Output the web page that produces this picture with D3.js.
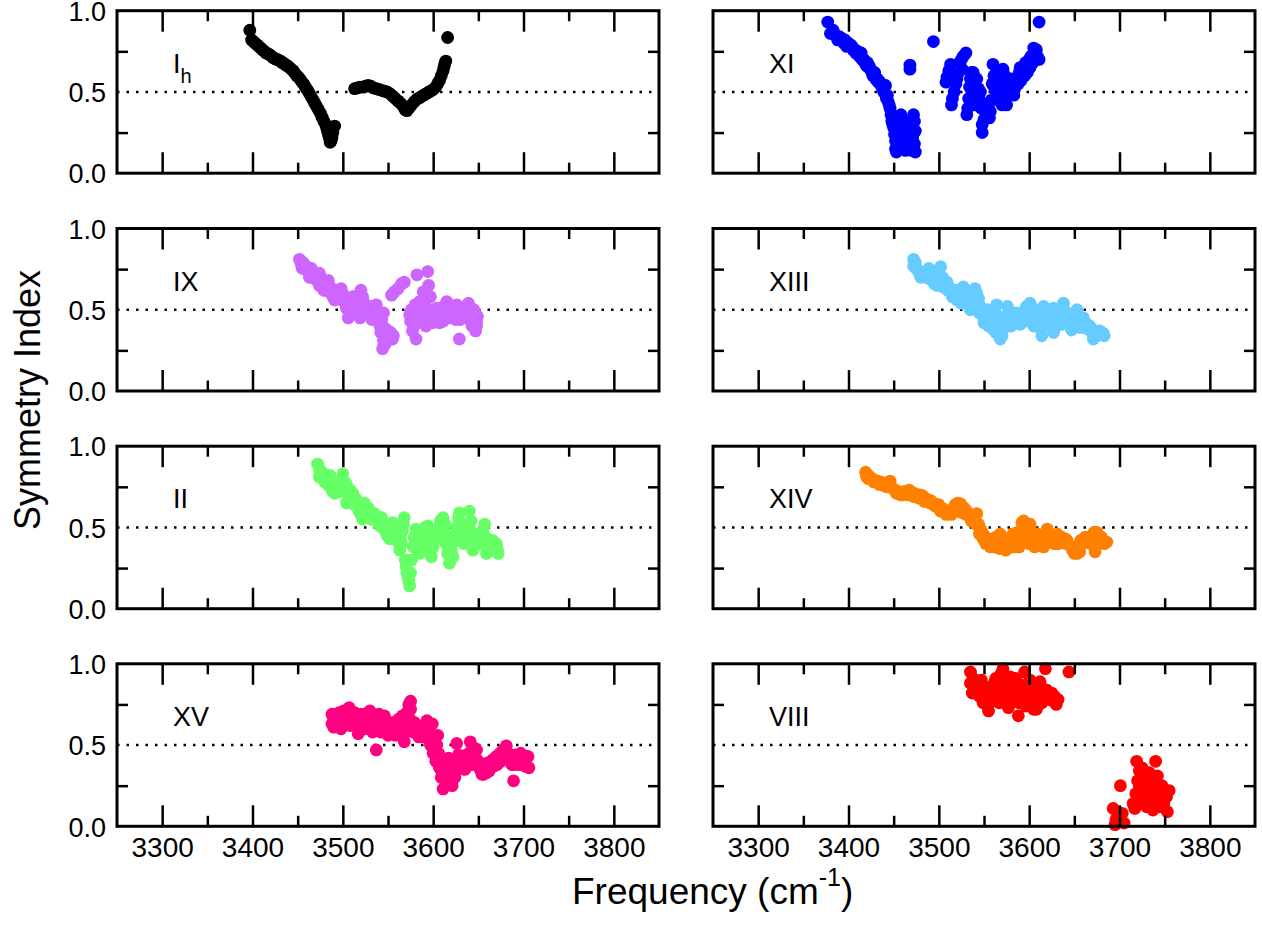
<!DOCTYPE html>
<html lang="en">
<head>
    <meta charset="utf-8" />
    <title>Symmetry Index vs Frequency</title>
    <script src="https://cdn.jsdelivr.net/npm/d3@7"></script>
    <style>
        body { margin: 0; background: #fff; }
        text { font-family: "Liberation Sans", Arial, Helvetica, sans-serif; fill: #000; }
        .tick line { stroke: #000; stroke-width: 2.5px; }
        .domain { display: none; }
    </style>
</head>
<body>
<script>
    // ---- data (frequency in cm-1, symmetry index) ----
    var dataIh = [[3397,0.88],[3399,0.82],[3401,0.81],[3403,0.80],[3405,0.79],[3407,0.78],[3409,0.77],[3411,0.76],[3413,0.75],[3415,0.74],[3417,0.735],[3419,0.73],[3421,0.72],[3423,0.71],[3425,0.705],[3427,0.70],[3429,0.695],[3431,0.69],[3433,0.68],[3435,0.675],[3437,0.665],[3439,0.66],[3441,0.65],[3443,0.64],[3445,0.63],[3447,0.615],[3449,0.60],[3451,0.59],[3453,0.575],[3455,0.56],[3457,0.545],[3459,0.525],[3461,0.51],[3463,0.49],[3465,0.47],[3467,0.45],[3469,0.43],[3471,0.41],[3473,0.39],[3475,0.37],[3477,0.345],[3479,0.32],[3481,0.30],[3482,0.28],[3483,0.26],[3484,0.24],[3485,0.22],[3486,0.205],[3487,0.20],[3488,0.22],[3489,0.25],[3491,0.29],[3486,0.19],
        [3513,0.52],[3516,0.525],[3519,0.53],[3522,0.53],[3525,0.535],[3528,0.54],[3531,0.535],[3534,0.525],[3537,0.52],[3540,0.515],[3543,0.51],[3546,0.505],[3549,0.50],[3552,0.49],[3555,0.475],[3558,0.46],[3561,0.445],[3564,0.43],[3567,0.41],[3569,0.39],[3571,0.385],[3573,0.40],[3576,0.42],[3579,0.44],[3582,0.455],[3585,0.465],[3588,0.475],[3591,0.485],[3594,0.495],[3597,0.505],[3600,0.515],[3603,0.53],[3605,0.55],[3607,0.57],[3609,0.60],[3611,0.63],[3612,0.655],[3613,0.675],[3614,0.69],[3616,0.835]];

    var dataXI = [[3377,0.93],[3380,0.86],[3383,0.88],[3385,0.85],[3388,0.82],[3390,0.84],[3392,0.83],[3395,0.80],[3396,0.82],[3398,0.78],[3400,0.80],[3402,0.79],[3404,0.78],[3405,0.76],[3407,0.76],[3408,0.74],[3410,0.75],[3411,0.73],[3412,0.72],[3414,0.74],[3415,0.70],[3417,0.70],[3418,0.68],[3420,0.66],[3421,0.68],[3423,0.66],[3424,0.64],[3426,0.62],[3427,0.60],[3429,0.62],[3430,0.58],[3432,0.58],[3433,0.56],[3435,0.56],[3436,0.54],[3438,0.52],[3439,0.50],[3441,0.54],[3442,0.46],[3443,0.48],[3444,0.44],[3445,0.42],[3446,0.40],[3447,0.36],[3448,0.32],[3449,0.30],[3450,0.28],[3451,0.24],[3452,0.20],[3452,0.15],[3453,0.13],[3454,0.22],[3455,0.18],[3456,0.25],[3457,0.30],[3457,0.16],[3458,0.36],[3459,0.28],[3459,0.20],[3460,0.22],[3461,0.17],[3462,0.32],[3463,0.14],[3464,0.26],[3465,0.20],[3465,0.30],[3466,0.15],[3467,0.28],[3468,0.18],[3469,0.22],[3470,0.14],[3471,0.30],[3471,0.22],[3472,0.36],[3473,0.18],[3473,0.32],[3474,0.13],[3474,0.26],[3468,0.665],[3468,0.64],[3494,0.81],
        [3508,0.56],[3509,0.59],[3511,0.63],[3513,0.67],[3514,0.42],[3515,0.46],[3517,0.50],[3519,0.55],[3520,0.58],[3521,0.61],[3523,0.68],[3525,0.70],[3526,0.64],[3527,0.72],[3530,0.74],[3531,0.36],[3532,0.40],[3533,0.46],[3534,0.53],[3535,0.58],[3536,0.62],[3537,0.50],[3538,0.62],[3539,0.56],[3540,0.48],[3541,0.42],[3542,0.58],[3543,0.44],[3544,0.52],[3545,0.45],[3546,0.50],[3547,0.40],[3548,0.30],[3548,0.25],[3550,0.33],[3551,0.40],[3552,0.37],[3554,0.35],[3555,0.42],[3556,0.34],[3557,0.38],[3558,0.45],[3559,0.55],[3560,0.67],[3561,0.60],[3562,0.52],[3563,0.60],[3564,0.48],[3566,0.50],[3567,0.55],[3568,0.44],[3570,0.42],[3571,0.64],[3572,0.46],[3573,0.60],[3575,0.42],[3576,0.55],[3577,0.48],[3579,0.52],[3580,0.58],[3581,0.50],[3583,0.48],[3584,0.52],[3585,0.55],[3587,0.58],[3588,0.55],[3589,0.62],[3590,0.65],[3591,0.57],[3592,0.60],[3594,0.66],[3595,0.60],[3596,0.68],[3597,0.64],[3598,0.62],[3600,0.70],[3601,0.65],[3602,0.72],[3603,0.72],[3604,0.68],[3605,0.77],[3606,0.70],[3607,0.74],[3608,0.76],[3609,0.72],[3611,0.70],[3611,0.93]];

    var dataIX = [[3452,0.81],[3454,0.78],[3455,0.755],[3456,0.79],[3458,0.77],[3460,0.75],[3461,0.76],[3462,0.73],[3463,0.70],[3465,0.755],[3466,0.70],[3467,0.72],[3469,0.70],[3470,0.72],[3471,0.68],[3474,0.725],[3474,0.65],[3475,0.70],[3476,0.68],[3478,0.66],[3479,0.62],[3480,0.64],[3482,0.62],[3483,0.65],[3484,0.68],[3486,0.64],[3487,0.60],[3488,0.62],[3489,0.58],[3491,0.56],[3492,0.58],[3493,0.60],[3495,0.62],[3496,0.58],[3498,0.63],[3499,0.56],[3500,0.60],[3502,0.56],[3503,0.54],[3504,0.51],[3506,0.45],[3507,0.53],[3508,0.50],[3509,0.55],[3511,0.58],[3512,0.52],[3513,0.54],[3515,0.50],[3516,0.55],[3517,0.47],[3519,0.45],[3520,0.62],[3521,0.52],[3522,0.58],[3524,0.54],[3525,0.48],[3526,0.50],[3528,0.48],[3529,0.52],[3530,0.46],[3532,0.44],[3533,0.48],[3534,0.50],[3536,0.46],[3537,0.53],[3539,0.48],[3540,0.44],[3541,0.40],[3542,0.36],[3543,0.44],[3544,0.40],[3545,0.48],[3545,0.31],[3544,0.26],[3546,0.36],[3547,0.29],[3548,0.38],[3549,0.33],[3551,0.36],[3553,0.36],[3555,0.32],[3556,0.34],
        [3554,0.59],[3557,0.61],[3561,0.63],[3565,0.66],[3568,0.67],[3574,0.47],[3575,0.43],[3576,0.50],[3577,0.37],[3578,0.45],[3579,0.40],[3580,0.53],[3581,0.32],[3582,0.715],[3583,0.45],[3584,0.48],[3585,0.55],[3587,0.50],[3588,0.44],[3589,0.61],[3590,0.44],[3591,0.52],[3592,0.40],[3594,0.735],[3595,0.65],[3596,0.50],[3597,0.58],[3598,0.48],[3599,0.42],[3600,0.46],[3602,0.44],[3603,0.48],[3604,0.51],[3606,0.48],[3607,0.42],[3608,0.45],[3610,0.47],[3611,0.43],[3612,0.52],[3614,0.46],[3615,0.55],[3617,0.48],[3618,0.51],[3619,0.45],[3621,0.52],[3622,0.48],[3623,0.46],[3625,0.44],[3626,0.53],[3627,0.47],[3628,0.50],[3629,0.32],[3630,0.44],[3631,0.46],[3632,0.50],[3634,0.48],[3635,0.51],[3637,0.45],[3638,0.47],[3639,0.54],[3640,0.49],[3641,0.46],[3642,0.43],[3643,0.40],[3644,0.47],[3645,0.50],[3646,0.44],[3647,0.37],[3648,0.43],[3648,0.40],[3649,0.46]];

    var dataXIII = [[3472,0.81],[3472,0.77],[3474,0.79],[3474,0.76],[3476,0.75],[3478,0.73],[3480,0.70],[3481,0.715],[3484,0.72],[3485,0.70],[3486,0.73],[3489,0.755],[3490,0.69],[3491,0.72],[3494,0.70],[3495,0.66],[3496,0.68],[3498,0.65],[3500,0.72],[3500,0.66],[3502,0.765],[3504,0.70],[3505,0.64],[3506,0.68],[3509,0.67],[3510,0.62],[3511,0.64],[3514,0.60],[3515,0.58],[3516,0.62],[3518,0.62],[3520,0.56],[3521,0.60],[3524,0.56],[3525,0.54],[3527,0.64],[3529,0.60],[3530,0.55],[3532,0.57],[3535,0.53],[3535,0.50],[3537,0.58],[3540,0.63],[3540,0.52],[3542,0.60],[3544,0.57],[3545,0.48],[3546,0.52],[3548,0.49],[3550,0.45],[3550,0.42],[3552,0.47],[3554,0.50],[3555,0.40],[3556,0.46],[3558,0.42],[3560,0.44],[3560,0.38],[3562,0.48],[3563,0.36],[3564,0.53],[3565,0.40],[3567,0.36],[3568,0.32],[3570,0.38],[3570,0.34],[3572,0.42],[3574,0.46],[3575,0.42],[3576,0.52],[3577,0.40],[3579,0.44],[3580,0.40],[3581,0.47],[3583,0.43],[3585,0.48],[3585,0.42],[3587,0.45],[3590,0.41],[3590,0.44],[3592,0.46],[3594,0.49],[3595,0.43],[3597,0.52],[3599,0.50],[3600,0.44],[3601,0.54],[3603,0.43],[3605,0.47],[3605,0.40],[3607,0.50],[3609,0.46],[3610,0.44],[3611,0.42],[3613,0.38],[3614,0.34],[3615,0.40],[3616,0.52],[3618,0.47],[3618,0.42],[3620,0.44],[3622,0.48],[3622,0.44],[3624,0.50],[3625,0.40],[3627,0.36],[3627,0.51],[3629,0.46],[3630,0.40],[3631,0.43],[3634,0.43],[3635,0.41],[3636,0.48],[3638,0.54],[3640,0.49],[3640,0.44],[3642,0.45],[3644,0.42],[3645,0.40],[3647,0.375],[3649,0.44],[3650,0.42],[3651,0.47],[3653,0.50],[3655,0.45],[3655,0.42],[3657,0.39],[3660,0.45],[3660,0.40],[3662,0.42],[3664,0.41],[3665,0.38],[3667,0.40],[3669,0.38],[3670,0.36],[3671,0.32],[3672,0.36],[3674,0.37],[3675,0.34],[3677,0.35],[3678,0.37],[3680,0.35],[3682,0.355],[3683,0.34]];

    var dataII = [[3472,0.89],[3474,0.86],[3474,0.81],[3475,0.82],[3476,0.84],[3478,0.80],[3479,0.83],[3480,0.78],[3482,0.82],[3483,0.79],[3484,0.76],[3486,0.82],[3487,0.74],[3488,0.77],[3489,0.72],[3491,0.71],[3492,0.77],[3493,0.74],[3495,0.77],[3496,0.72],[3497,0.75],[3499,0.80],[3500,0.83],[3501,0.74],[3502,0.78],[3504,0.765],[3504,0.65],[3505,0.72],[3506,0.70],[3508,0.73],[3509,0.66],[3510,0.68],[3511,0.71],[3513,0.64],[3514,0.68],[3515,0.66],[3517,0.62],[3518,0.60],[3519,0.64],[3520,0.58],[3522,0.55],[3523,0.58],[3524,0.65],[3525,0.60],[3527,0.57],[3528,0.62],[3529,0.59],[3531,0.56],[3532,0.55],[3533,0.59],[3535,0.55],[3536,0.58],[3537,0.57],[3539,0.53],[3540,0.55],[3541,0.51],[3543,0.56],[3544,0.50],[3545,0.52],[3547,0.48],[3548,0.52],[3549,0.45],[3550,0.50],[3551,0.47],[3552,0.43],[3553,0.52],[3554,0.46],[3555,0.53],[3557,0.50],[3558,0.43],[3559,0.45],[3561,0.41],[3562,0.44],[3563,0.36],[3564,0.44],[3565,0.40],[3566,0.48],[3567,0.52],[3568,0.56],[3569,0.30],[3570,0.26],[3571,0.22],[3572,0.20],[3573,0.17],[3574,0.14],[3575,0.22],[3576,0.30],[3578,0.38],[3579,0.44],[3580,0.41],[3581,0.49],[3582,0.40],[3583,0.45],[3585,0.34],[3586,0.46],[3587,0.40],[3589,0.46],[3590,0.42],[3591,0.50],[3593,0.38],[3594,0.51],[3596,0.44],[3597,0.48],[3598,0.32],[3600,0.38],[3601,0.42],[3602,0.46],[3604,0.43],[3605,0.46],[3606,0.50],[3608,0.54],[3609,0.44],[3611,0.56],[3612,0.48],[3613,0.52],[3614,0.40],[3616,0.34],[3617,0.44],[3618,0.28],[3620,0.36],[3621,0.40],[3622,0.32],[3624,0.42],[3625,0.46],[3626,0.50],[3628,0.56],[3629,0.59],[3630,0.45],[3631,0.52],[3633,0.49],[3634,0.40],[3635,0.44],[3637,0.50],[3638,0.46],[3640,0.60],[3641,0.48],[3642,0.54],[3644,0.36],[3645,0.46],[3646,0.38],[3647,0.42],[3649,0.40],[3650,0.44],[3651,0.41],[3653,0.45],[3654,0.40],[3655,0.48],[3657,0.52],[3658,0.44],[3659,0.34],[3660,0.40],[3662,0.38],[3663,0.42],[3664,0.37],[3666,0.42],[3667,0.36],[3668,0.38],[3670,0.40],[3671,0.37],[3672,0.34]];

    var dataXIV = [[3419,0.84],[3420,0.81],[3422,0.80],[3423,0.815],[3426,0.80],[3428,0.78],[3429,0.79],[3432,0.785],[3434,0.765],[3435,0.78],[3438,0.775],[3440,0.755],[3441,0.77],[3443,0.75],[3446,0.785],[3447,0.75],[3449,0.74],[3452,0.73],[3453,0.71],[3455,0.715],[3458,0.70],[3460,0.70],[3461,0.72],[3464,0.72],[3466,0.70],[3467,0.73],[3470,0.715],[3472,0.69],[3473,0.71],[3476,0.70],[3478,0.68],[3479,0.70],[3482,0.695],[3484,0.66],[3485,0.68],[3488,0.67],[3490,0.65],[3491,0.665],[3494,0.65],[3496,0.63],[3497,0.64],[3500,0.64],[3502,0.60],[3503,0.62],[3506,0.61],[3508,0.58],[3509,0.595],[3512,0.60],[3514,0.58],[3515,0.61],[3518,0.64],[3520,0.60],[3521,0.65],[3524,0.645],[3525,0.62],[3526,0.59],[3528,0.62],[3530,0.58],[3531,0.60],[3534,0.58],[3536,0.54],[3537,0.56],[3540,0.55],[3541,0.52],[3542,0.585],[3544,0.52],[3545,0.46],[3546,0.49],[3548,0.47],[3549,0.43],[3550,0.45],[3552,0.40],[3553,0.42],[3556,0.43],[3557,0.38],[3558,0.40],[3561,0.41],[3562,0.38],[3563,0.44],[3566,0.40],[3567,0.37],[3568,0.46],[3570,0.43],[3572,0.38],[3573,0.40],[3574,0.36],[3576,0.37],[3578,0.42],[3579,0.38],[3580,0.39],[3582,0.46],[3583,0.38],[3584,0.40],[3585,0.43],[3587,0.47],[3589,0.38],[3590,0.42],[3592,0.53],[3593,0.46],[3594,0.54],[3596,0.50],[3597,0.42],[3598,0.45],[3600,0.40],[3601,0.52],[3602,0.44],[3603,0.47],[3605,0.43],[3606,0.38],[3607,0.40],[3609,0.46],[3611,0.39],[3612,0.44],[3614,0.41],[3616,0.38],[3617,0.41],[3618,0.45],[3620,0.49],[3621,0.43],[3622,0.46],[3624,0.42],[3626,0.44],[3627,0.42],[3628,0.40],[3631,0.46],[3632,0.40],[3633,0.42],[3636,0.44],[3637,0.41],[3638,0.42],[3640,0.43],[3641,0.40],[3642,0.42],[3648,0.36],[3650,0.34],[3651,0.38],[3653,0.34],[3655,0.37],[3656,0.35],[3657,0.42],[3659,0.40],[3661,0.41],[3662,0.44],[3665,0.42],[3666,0.44],[3668,0.40],[3670,0.45],[3671,0.40],[3672,0.47],[3673,0.35],[3675,0.47],[3676,0.40],[3677,0.42],[3680,0.44],[3682,0.42],[3683,0.40],[3686,0.41]];

    var dataXV = [[3488,0.69],[3488,0.63],[3490,0.66],[3490,0.61],[3492,0.68],[3494,0.64],[3495,0.67],[3496,0.70],[3498,0.60],[3499,0.67],[3500,0.62],[3501,0.71],[3503,0.65],[3504,0.67],[3505,0.69],[3507,0.73],[3508,0.62],[3509,0.68],[3511,0.64],[3512,0.67],[3513,0.70],[3515,0.66],[3516,0.62],[3517,0.57],[3518,0.62],[3520,0.69],[3521,0.60],[3522,0.65],[3524,0.60],[3525,0.64],[3526,0.67],[3528,0.70],[3529,0.66],[3530,0.71],[3531,0.63],[3533,0.58],[3534,0.62],[3535,0.66],[3537,0.47],[3538,0.60],[3539,0.64],[3540,0.69],[3542,0.58],[3543,0.61],[3544,0.64],[3546,0.68],[3547,0.65],[3548,0.60],[3550,0.56],[3551,0.60],[3552,0.63],[3554,0.60],[3555,0.58],[3556,0.64],[3558,0.56],[3559,0.60],[3560,0.62],[3562,0.66],[3563,0.63],[3564,0.60],[3566,0.68],[3567,0.61],[3568,0.52],[3569,0.64],[3570,0.58],[3571,0.70],[3573,0.75],[3574,0.66],[3575,0.77],[3575,0.72],[3576,0.62],[3578,0.58],[3579,0.64],[3580,0.60],[3582,0.58],[3583,0.62],[3584,0.55],[3586,0.56],[3587,0.58],[3588,0.60],[3590,0.55],[3592,0.58],[3593,0.65],[3595,0.60],[3596,0.55],[3597,0.50],[3599,0.63],[3600,0.45],[3601,0.55],[3602,0.48],[3603,0.40],[3604,0.50],[3605,0.56],[3606,0.45],[3606,0.38],[3607,0.36],[3608,0.40],[3609,0.30],[3610,0.33],[3611,0.23],[3612,0.35],[3613,0.30],[3614,0.28],[3615,0.31],[3616,0.36],[3617,0.42],[3618,0.26],[3619,0.38],[3620,0.34],[3621,0.25],[3622,0.36],[3623,0.41],[3624,0.30],[3625,0.34],[3626,0.51],[3627,0.40],[3628,0.44],[3629,0.36],[3631,0.43],[3632,0.40],[3633,0.38],[3635,0.35],[3636,0.38],[3637,0.44],[3639,0.40],[3640,0.45],[3641,0.52],[3642,0.46],[3643,0.38],[3644,0.42],[3646,0.48],[3647,0.42],[3648,0.47],[3650,0.40],[3651,0.38],[3652,0.35],[3654,0.32],[3655,0.36],[3656,0.32],[3658,0.36],[3659,0.33],[3660,0.39],[3662,0.34],[3663,0.36],[3664,0.38],[3666,0.41],[3667,0.37],[3668,0.39],[3670,0.43],[3671,0.38],[3672,0.40],[3674,0.45],[3675,0.40],[3676,0.44],[3678,0.47],[3679,0.42],[3680,0.48],[3681,0.495],[3682,0.44],[3683,0.45],[3685,0.42],[3686,0.40],[3687,0.38],[3689,0.28],[3689,0.41],[3690,0.38],[3691,0.44],[3693,0.40],[3694,0.38],[3695,0.42],[3697,0.45],[3698,0.41],[3699,0.38],[3701,0.40],[3702,0.37],[3703,0.43],[3705,0.43],[3706,0.36]];

    var dataVIII = [[3535,0.95],[3535,0.88],[3537,0.82],[3538,0.91],[3540,0.85],[3542,0.82],[3544,0.86],[3545,0.80],[3547,0.90],[3547,0.80],[3549,0.76],[3550,0.86],[3552,0.78],[3554,0.74],[3555,0.71],[3556,0.78],[3557,0.83],[3559,0.77],[3560,0.84],[3561,0.88],[3563,0.91],[3565,0.82],[3566,0.88],[3567,0.76],[3569,0.94],[3570,0.80],[3571,0.97],[3572,0.86],[3574,0.80],[3575,0.90],[3576,0.83],[3577,0.73],[3579,0.92],[3580,0.76],[3581,0.88],[3583,0.78],[3584,0.86],[3585,0.91],[3586,0.84],[3588,0.68],[3589,0.76],[3590,0.80],[3591,0.87],[3593,0.82],[3594,0.86],[3595,0.95],[3596,0.74],[3598,0.80],[3599,0.84],[3600,0.80],[3601,0.90],[3603,0.76],[3604,0.86],[3605,0.72],[3606,0.84],[3608,0.72],[3609,0.78],[3610,0.80],[3612,0.89],[3614,0.76],[3615,0.80],[3616,0.83],[3618,0.97],[3619,0.84],[3620,0.80],[3622,0.78],[3624,0.79],[3625,0.82],[3627,0.77],[3628,0.80],[3630,0.75],[3632,0.78],[3644,0.95],
        [3695,0.01],[3696,0.04],[3693,0.11],[3698,0.08],[3701,0.25],[3703,0.08],[3705,0.02],[3715,0.14],[3717,0.11],[3718,0.20],[3719,0.40],[3720,0.28],[3722,0.34],[3722,0.24],[3723,0.27],[3724,0.18],[3725,0.36],[3726,0.16],[3727,0.22],[3728,0.30],[3729,0.19],[3730,0.12],[3731,0.26],[3732,0.20],[3733,0.33],[3734,0.14],[3735,0.22],[3736,0.30],[3737,0.10],[3738,0.28],[3739,0.15],[3740,0.40],[3741,0.18],[3742,0.31],[3743,0.20],[3744,0.12],[3745,0.23],[3746,0.16],[3747,0.25],[3749,0.14],[3750,0.20],[3752,0.18],[3753,0.09],[3755,0.22]];

    var panelNames = ["Ih", "XI", "IX", "XIII", "II", "XIV", "XV", "VIII"];
    var panelColors = ["#000000", "#0000ff", "#cc66ff", "#66ccff", "#66ff66", "#ff8000", "#ff0080", "#ff0000"];
    var panelData = [dataIh, dataXI, dataIX, dataXIII, dataII, dataXIV, dataXV, dataVIII];

    var xMajor = [3300, 3400, 3500, 3600, 3700, 3800];
    var xMinor = [3350, 3450, 3550, 3650, 3750];
    var yLabels = [0, 0.5, 1.0];
    var yMinor = [0.25, 0.75];

    // ---- layout ----
    var width = 1262, height = 928;
    var colLeft = [117, 713];
    var rowTop = [10.7, 228.5, 446.2, 663.8];
    var pw = 542, ph = 162.5;

    var svg = d3.select("body").append("svg")
        .attr("width", width)
        .attr("height", height);

    var x = d3.scaleLinear().domain([3250, 3850]).range([0, pw]);
    var y = d3.scaleLinear().domain([0, 1]).range([ph, 0]);

    panelNames.forEach(function (name, i) {
        var col = i % 2, row = Math.floor(i / 2);
        var g = svg.append("g")
            .attr("transform", "translate(" + colLeft[col] + "," + rowTop[row] + ")");

        // dotted reference line at 0.5
        g.append("line")
            .attr("x1", 0).attr("x2", pw)
            .attr("y1", y(0.5)).attr("y2", y(0.5))
            .attr("stroke", "#000")
            .attr("stroke-width", 2.5)
            .attr("stroke-dasharray", "2.5,7");

        g.append("g").selectAll("circle")
            .data(panelData[i])
            .enter().append("circle")
            .attr("cx", function (d) { return x(d[0]); })
            .attr("cy", function (d) { return y(d[1]); })
            .attr("r", 6.4)
            .attr("fill", panelColors[i]);

        // ticks (inward)
        var bottomMajor = d3.axisBottom(x).tickValues(xMajor).tickSize(-21).tickPadding(11)
            .tickFormat(row === 3 ? d3.format("d") : "");
        g.append("g").attr("transform", "translate(0," + ph + ")").call(bottomMajor);
        g.append("g").attr("transform", "translate(0," + ph + ")")
            .call(d3.axisBottom(x).tickValues(xMinor).tickSize(-10.5).tickFormat(""));
        g.append("g").call(d3.axisTop(x).tickValues(xMajor).tickSize(-21).tickFormat(""));
        g.append("g").call(d3.axisTop(x).tickValues(xMinor).tickSize(-10.5).tickFormat(""));

        g.append("g").call(d3.axisLeft(y).tickValues(yMinor).tickSize(-11).tickFormat(""));
        g.append("g").attr("transform", "translate(" + pw + ",0)")
            .call(d3.axisRight(y).tickValues(yMinor).tickSize(-11).tickFormat(""));

        if (col === 0) {
            g.append("g")
                .attr("class", "ylab")
                .call(d3.axisLeft(y).tickValues(yLabels).tickSize(0).tickPadding(11)
                    .tickFormat(d3.format(".1f")));
        }

        // frame
        g.append("rect")
            .attr("width", pw).attr("height", ph)
            .attr("fill", "none")
            .attr("stroke", "#000")
            .attr("stroke-width", 3);

        // panel label
        var lab = g.append("text")
            .attr("x", 56).attr("y", 62)
            .style("font-size", "27px");
        if (name === "Ih") {
            lab.append("tspan").text("I");
            lab.append("tspan").attr("dy", 10).style("font-size", "20px").text("h");
        } else {
            lab.text(name);
        }
    });

    svg.selectAll(".tick text")
        .attr("font-family", null)
        .style("font-size", "28px")
        .style("font-family", "'Liberation Sans', Arial, sans-serif");
    svg.selectAll(".ylab .tick text")
        .style("font-size", "27px")
        .attr("dy", "0.36em");

    // axis titles
    var xt = svg.append("text")
        .attr("x", 572).attr("y", 904)
        .style("font-size", "37px");
    xt.append("tspan").text("Frequency (cm");
    xt.append("tspan").attr("dy", -18).style("font-size", "25px").text("-1");
    xt.append("tspan").attr("dy", 18).text(")");

    svg.append("text")
        .attr("transform", "translate(40,530) rotate(-90)")
        .style("font-size", "36px")
        .text("Symmetry Index");
</script>
</body>
</html>
